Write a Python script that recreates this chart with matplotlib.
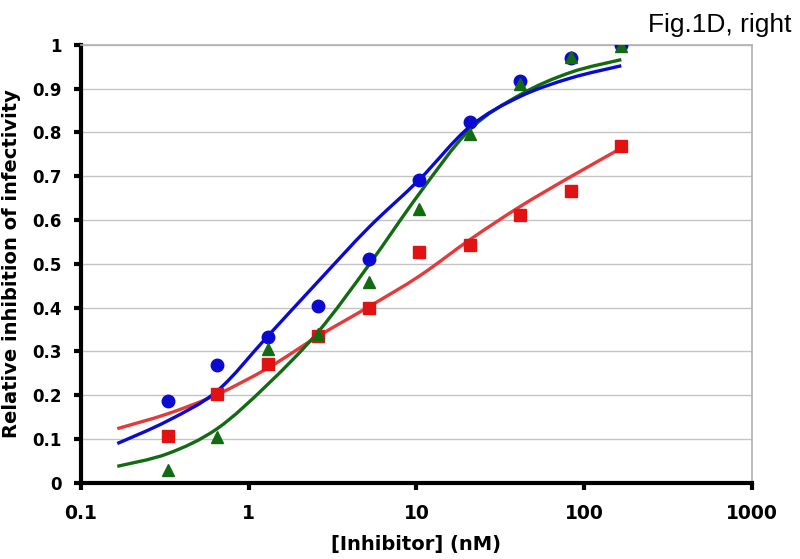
import matplotlib
matplotlib.use("Agg")
import numpy as np
import matplotlib.pyplot as plt
from matplotlib.path import Path
from matplotlib.patches import PathPatch
from matplotlib.ticker import FixedLocator, FixedFormatter, NullLocator

# Data points
conc = [0.33, 0.65, 1.3, 2.6, 5.2, 10.4, 20.8, 41.6, 83.2, 166.4]
blue_pts = [0.187, 0.270, 0.333, 0.404, 0.512, 0.692, 0.824, 0.918, 0.969, 1.000]
green_pts = [0.029, 0.104, 0.305, 0.340, 0.458, 0.625, 0.796, 0.910, 0.973, 0.998]
red_pts = [0.107, 0.203, 0.271, 0.335, 0.399, 0.527, 0.542, 0.611, 0.667, 0.770]

# Fitted curves
fit_x = [0.165, 0.33, 0.65, 1.3, 2.6, 5.2, 10.4, 20.8, 41.6, 83.2, 166.4]
blue_fit = [0.090, 0.142, 0.210, 0.335, 0.460, 0.583, 0.692, 0.813, 0.882, 0.924, 0.952]
green_fit = [0.038, 0.067, 0.124, 0.225, 0.345, 0.497, 0.660, 0.806, 0.886, 0.937, 0.966]
red_fit = [0.124, 0.158, 0.202, 0.262, 0.335, 0.402, 0.472, 0.555, 0.631, 0.699, 0.764]

x_ticks = [0.1, 1, 10, 100, 1000]
x_tick_labels = ["0.1", "1", "10", "100", "1000"]
y_ticks = [0, 0.1, 0.2, 0.3, 0.4, 0.5, 0.6, 0.7, 0.8, 0.9, 1]
y_tick_labels = ["0", "0.1", "0.2", "0.3", "0.4", "0.5", "0.6", "0.7", "0.8", "0.9", "1"]

BLUE = "#0a0ad2"
GREEN = "#126b12"
RED = "#e01212"
RED_LINE = "#e63a3a"


def smooth_path(xs, ys):
    """Excel-style smoothed line: Catmull-Rom segments as cubic Beziers,
    built in (log10 x, y) space and handed to the axes in data coords."""
    lx = np.log10(np.asarray(xs, float))
    y = np.asarray(ys, float)
    pts = np.column_stack([lx, y])
    n = len(pts)
    verts = [pts[0]]
    codes = [Path.MOVETO]
    for i in range(n - 1):
        p0 = pts[i - 1] if i > 0 else pts[i]
        p1 = pts[i]
        p2 = pts[i + 1]
        p3 = pts[i + 2] if i + 2 < n else pts[i + 1]
        c1 = p1 + (p2 - p0) / 6.0
        c2 = p2 - (p3 - p1) / 6.0
        verts += [c1, c2, p2]
        codes += [Path.CURVE4] * 3
    verts = np.array(verts)
    verts[:, 0] = 10 ** verts[:, 0]
    return Path(verts, codes)


fig = plt.figure(figsize=(8.0, 5.59), dpi=100)
ax = fig.add_axes([0.101, 0.136, 0.839, 0.784])

ax.set_xscale("log")
ax.set_xlim(0.1, 1000)
ax.set_ylim(0, 1)

for yv in y_ticks[1:]:
    ax.axhline(yv, color="#c4c4c4", lw=1.0, zorder=0)

for fy, col, z in [(red_fit, RED_LINE, 2), (green_fit, GREEN, 3), (blue_fit, BLUE, 3)]:
    patch = PathPatch(smooth_path(fit_x, fy), fill=False, edgecolor=col, lw=2.4,
                      joinstyle="round", capstyle="butt", transform=ax.transData, zorder=z)
    ax.add_patch(patch)

ax.plot(conc, red_pts, ls="none", marker="s", ms=8.5, color=RED, mec=RED, zorder=4)
ax.plot(conc, blue_pts, ls="none", marker="o", ms=9, color=BLUE, mec=BLUE, zorder=4)
ax.plot(conc, green_pts, ls="none", marker="^", ms=9, color=GREEN, mec=GREEN, zorder=5)

ax.xaxis.set_major_locator(FixedLocator(x_ticks))
ax.xaxis.set_major_formatter(FixedFormatter(x_tick_labels))
ax.xaxis.set_minor_locator(NullLocator())
ax.yaxis.set_major_locator(FixedLocator(y_ticks))
ax.yaxis.set_major_formatter(FixedFormatter(y_tick_labels))

for s in ["left", "bottom"]:
    ax.spines[s].set_linewidth(3)
    ax.spines[s].set_color("black")
for s in ["right", "top"]:
    ax.spines[s].set_linewidth(1.2)
    ax.spines[s].set_color("#b0b0b0")

ax.tick_params(axis="both", which="major", direction="out", length=5, width=3,
               color="black")
ax.tick_params(axis="y", labelsize=12, pad=9)
ax.tick_params(axis="x", labelsize=13.5, pad=10)
for lab in ax.get_xticklabels() + ax.get_yticklabels():
    lab.set_fontweight("bold")

ax.set_xlabel("[Inhibitor] (nM)", fontsize=14, fontweight="bold")
ax.set_ylabel("Relative inhibition of infectivity", fontsize=14, fontweight="bold")
ax.xaxis.set_label_coords(0.5, -0.118)
ax.yaxis.set_label_coords(-0.089, 0.5)

fig.text(0.99, 0.943, "Fig.1D, right", ha="right", va="baseline", fontsize=19,
         family=["Liberation Sans Narrow", "Liberation Sans", "DejaVu Sans"])

fig.savefig("out.png", dpi=100)
